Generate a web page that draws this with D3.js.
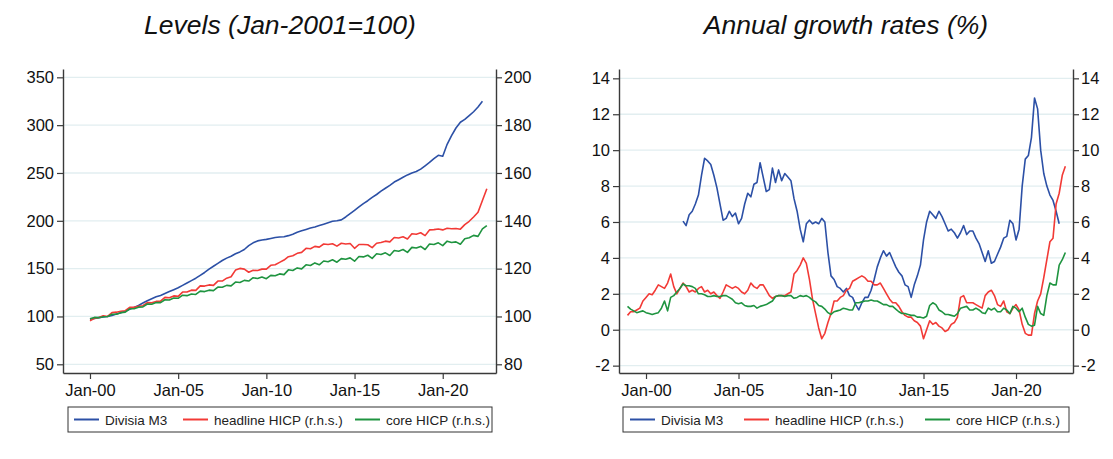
<!DOCTYPE html>
<html><head><meta charset="utf-8">
<script src="https://cdn.jsdelivr.net/npm/d3@7/dist/d3.min.js"></script>
<style>
body{margin:0;background:#fff;}
text{font-family:"Liberation Sans",Arial,Helvetica,sans-serif;}
</style>
</head><body>
<svg id="c" width="1113" height="459"></svg>
<script>
// ---------- DATA ----------
const tickYears = [2000, 2005, 2010, 2015, 2020];
const tickLabels = ["Jan-00", "Jan-05", "Jan-10", "Jan-15", "Jan-20"];
const seriesNames = ["Divisia M3", "headline HICP (r.h.s.)", "core HICP (r.h.s.)"];
const titles = ["Levels (Jan-2001=100)", "Annual growth rates (%)"];
const levelLeftTicks = [50, 100, 150, 200, 250, 300, 350];
const levelRightTicks = [80, 100, 120, 140, 160, 180, 200];
const growthTicks = [-2, 0, 2, 4, 6, 8, 10, 12, 14];

// Levels, quarterly from Jan-2000 (Jan, Apr, Jul, Oct)
const levelsStart = 2000;
const levelsM3 = [97,98,98.8,99.5,100,101,102.5,104,105.5,107.5,109.5,111.5,114,116.5,118.5,120.5,
  122,124,126,128,130,132.5,135,137.5,140,143,146,149.5,152.5,155.5,158.5,161,
  163,165.5,167.5,170,174,177,179,180,180.6,181.5,182.5,183,183.4,184.5,186,188,
  189.5,191,192.5,193.5,195,196.5,198,199.5,200,201,204,207.5,211,214.5,218,221,
  224.5,227.5,231,234,237,240.5,243,245.5,248,250,251.5,254,257.5,261,265,268.5,
  267.5,280,289,297,303,306,310,314,319,325];
const levelsHICP = [98.2,99.2,99.6,100.3,100,101.6,101.8,102.2,102.4,103.8,103.8,104.3,104.5,105.8,105.7,106.3,
  106.4,108,107.8,108.6,108.4,110.2,110.2,111,110.9,112.8,112.7,113.2,113,114.8,114.8,116,
  116.6,119.4,120.1,119.8,118.5,119.3,119.2,119.8,119.8,121.4,121.6,122.6,123.6,125,125.4,126.4,
  126.8,128.5,128.3,129.3,129,130.3,130.1,130.4,129.4,130.6,130.3,130.5,128.5,130.1,130.1,130,
  128.8,130.6,130.9,131.5,131.2,133,132.8,133.3,132.4,134.6,134.4,135,133.8,136.2,136.3,136.6,
  136.2,136.9,136.7,136.8,136.5,138.4,139.8,141.6,143.6,148.5,153.4];
const levelsCore = [99,99.6,99.5,99.9,100,100.9,100.9,101.6,101.8,103.2,103.2,103.9,104,105.2,105.1,105.8,
  105.8,107,106.9,107.7,107.6,108.9,108.7,109.4,109.2,110.6,110.4,111,110.8,112.3,112.2,113,
  112.8,114.4,114.2,115.1,114.8,116.2,115.9,116.5,115.8,117.2,117,117.8,117.5,119.5,119.2,120.3,
  119.9,121.6,121.3,122.4,121.6,123.2,122.9,123.7,122.7,124.2,123.9,124.5,123.1,125.1,124.9,125.6,
  124.3,126.2,125.9,126.6,125.5,127.6,127.3,128,126.8,128.9,128.6,129.3,128,130.3,130.1,130.8,
  129.6,131.5,130.9,131.2,130.2,132.5,132.9,133.9,133.5,136.6,138];

// Annual growth rates, every second month
const growthM3Start = 2002;
const growthM3 = [6.05,5.8,6.4,6.6,7,7.5,8.6,9.55,9.4,9.2,8.6,7.9,7,6.1,6.2,6.6,6.3,6.5,
  5.9,6.2,7,7.6,7.4,8.1,8.2,9.3,8.5,7.7,7.8,9,8.2,8.9,8.3,8.7,8.5,8.3,
  7.3,6.6,5.6,4.9,5.9,6.1,5.9,6,5.9,6.2,6,4.3,3,2.8,2.4,2.3,2.1,2.3,
  1.9,1.8,1.4,1.1,1.5,1.8,1.8,2.2,2.8,3.5,4,4.4,4.1,4.3,3.9,3.5,3.2,3,
  2.5,2.4,1.8,2.5,3,3.6,5,6,6.6,6.4,6.2,6.6,6.3,5.9,5.5,5.6,5.4,5.1,
  5.4,5.8,5.3,5.5,5.5,5.1,4.8,4.3,3.8,4.4,3.7,3.8,4.2,4.6,5.1,5.2,6.1,5.9,
  5,5.6,8,9.5,9.7,10.7,12.9,12.3,10,8.7,8,7.5,7.2,6.6,5.9];
const growthHICPStart = 1999;
const growthHICP = [0.8,1,1,1.1,1.2,1.6,1.8,2,1.95,2.2,2.5,2.4,2.3,2.6,3.1,2.4,2,2.3,
  2.6,2.4,2.1,2.2,2.1,2.3,2.4,2.1,2.2,2,2.1,1.9,1.75,2.1,2.5,2.4,2.3,2.4,
  2.3,2.1,2,2.2,2.6,2.4,2.3,2.5,2.5,2.2,1.9,1.75,1.85,1.9,1.9,1.9,2,2.1,
  3.1,3.3,3.6,4,3.7,2.8,1.7,0.9,0.1,-0.5,-0.2,0.4,0.9,1.6,1.6,1.8,1.9,2.2,
  2.3,2.7,2.8,2.9,3,2.9,2.7,2.7,2.5,2.5,2.6,2.3,2,1.7,1.5,1.5,1.3,1,
  0.8,0.7,0.7,0.5,0.4,0.2,-0.5,0,0.5,0.3,0.4,0.2,0.1,-0.1,0,0.3,0.4,0.7,
  1.8,1.9,1.5,1.5,1.5,1.4,1.3,1.2,1.9,2.1,2.2,1.9,1.4,1.3,1.6,1,0.9,1.2,
  1.4,1.1,0.3,-0.2,-0.3,-0.3,0.9,1.6,2,2.9,3.9,4.9,5.1,7,7.6,8.6,9.1];
const growthCore = [1.3,1.15,1.05,0.95,1,1.05,0.95,0.9,0.85,0.9,0.95,1.2,1.6,1.05,1.8,1.9,2.1,2.3,
  2.55,2.45,2.45,2.4,2.3,2,2,1.95,1.85,1.85,1.9,1.85,1.85,1.9,1.9,1.8,1.7,1.5,
  1.45,1.5,1.35,1.3,1.3,1.35,1.2,1.3,1.35,1.4,1.5,1.6,1.85,1.9,1.9,1.85,1.9,1.9,
  1.75,1.8,1.9,1.85,1.9,1.8,1.65,1.55,1.35,1.3,1.15,0.95,0.85,1,1.05,1.1,1.2,1.15,
  1.1,1.1,1.5,1.5,1.55,1.6,1.6,1.65,1.6,1.6,1.5,1.4,1.4,1.3,1.3,1.15,1,0.9,
  0.9,0.85,0.8,0.8,0.7,0.7,0.65,0.75,1.35,1.5,1.4,1.1,1,0.85,0.85,0.8,0.75,0.9,
  1.2,1.25,1.3,1.1,1.1,1.2,1.1,0.95,0.9,1.2,1.1,1.2,1,1,1.2,1.1,0.9,1.3,
  1.2,1,1.2,0.7,0.3,0.2,0.25,1.3,0.9,0.8,1.9,2.6,2.5,2.5,3.6,3.9,4.3];

// ---------- DRAWING ----------
const colors = ["#2c50a6", "#f23a36", "#1f9440"];
const svg = d3.select("#c");
const axisColor = "#3a3a3a";
const gridColor = "#e2eef0";

function withTime(values, start, perYear) {
  return values.map((v, i) => ({ t: start + i / perYear, v }));
}

function drawPanel(p) {
  const g = svg.append("g");
  const x = d3.scaleLinear().domain(p.xDomain).range([p.left, p.right]);
  const yL = d3.scaleLinear().domain(p.yLDomain).range([p.bottom, p.top]);
  const yR = d3.scaleLinear().domain(p.yRDomain).range([p.bottom, p.top]);

  // grid
  g.selectAll("line.grid").data(p.leftTicks).enter().append("line")
    .attr("x1", p.left).attr("x2", p.right)
    .attr("y1", d => yL(d)).attr("y2", d => yL(d))
    .attr("stroke", gridColor).attr("stroke-width", 1.3);

  const styleAxis = (sel) => {
    sel.selectAll("path.domain").attr("stroke", axisColor).attr("stroke-width", 1.4);
    sel.selectAll(".tick line").attr("stroke", axisColor).attr("stroke-width", 1.2);
    sel.selectAll(".tick text").attr("fill", "#111").style("font-size", "16.5px")
      .style("font-family", '"Liberation Sans",Arial,sans-serif');
  };
  const fmt = d => String(d);

  g.append("g").attr("transform", `translate(${p.left},0)`)
    .call(d3.axisLeft(yL).tickValues(p.leftTicks).tickFormat(fmt).tickSize(6).tickSizeOuter(0).tickPadding(3))
    .call(styleAxis);
  g.append("g").attr("transform", `translate(${p.right},0)`)
    .call(d3.axisRight(yR).tickValues(p.rightTicks).tickFormat(fmt).tickSize(6).tickSizeOuter(0).tickPadding(2))
    .call(styleAxis);
  g.append("g").attr("transform", `translate(0,${p.bottom})`)
    .call(d3.axisBottom(x).tickValues(tickYears).tickFormat((d, i) => tickLabels[i])
      .tickSize(6).tickSizeOuter(0).tickPadding(5))
    .call(styleAxis);

  // lines
  p.series.forEach((s, k) => {
    const yS = s.axis === "R" ? yR : yL;
    const line = d3.line().x(d => x(d.t)).y(d => yS(d.v));
    g.append("path").datum(s.data)
      .attr("d", line).attr("fill", "none")
      .attr("stroke", colors[k]).attr("stroke-width", 1.6)
      .attr("stroke-linejoin", "round");
  });

  // title
  g.append("text").attr("x", p.titleX).attr("y", 34)
    .attr("text-anchor", "middle").style("font-size", "26.5px").style("font-style", "italic")
    .attr("fill", "#111").text(p.title);

  // legend
  const L = p.legend;
  g.append("rect").attr("x", L.x).attr("y", L.y).attr("width", L.w).attr("height", L.h)
    .attr("fill", "#fff").attr("stroke", "#333").attr("stroke-width", 1);
  seriesNames.forEach((name, k) => {
    const lx = L.items[k];
    g.append("line").attr("x1", lx).attr("x2", lx + 25)
      .attr("y1", L.y + L.h / 2).attr("y2", L.y + L.h / 2)
      .attr("stroke", colors[k]).attr("stroke-width", 2);
    g.append("text").attr("x", lx + 31).attr("y", L.y + L.h / 2 + 5)
      .style("font-size", "13.5px").attr("fill", "#222").text(name);
  });
}

// Left panel: levels
drawPanel({
  left: 63, right: 496, top: 69, bottom: 373,
  xDomain: [1998.47, 2023.02],
  yLDomain: [40.9, 358.7], yRDomain: [76.36, 203.48],
  leftTicks: levelLeftTicks, rightTicks: levelRightTicks,
  series: [
    { data: withTime(levelsM3, levelsStart, 4), axis: "L" },
    { data: withTime(levelsHICP, levelsStart, 4), axis: "R" },
    { data: withTime(levelsCore, levelsStart, 4), axis: "R" }
  ],
  title: titles[0], titleX: 280,
  legend: { x: 68, y: 407, w: 424, h: 25, items: [74, 183, 355] }
});

// Right panel: growth rates
drawPanel({
  left: 619, right: 1073, top: 69, bottom: 373,
  xDomain: [1998.54, 2023.08],
  yLDomain: [-2.41, 14.52], yRDomain: [-2.41, 14.52],
  leftTicks: growthTicks, rightTicks: growthTicks,
  series: [
    { data: withTime(growthM3, growthM3Start, 6), axis: "L" },
    { data: withTime(growthHICP, growthHICPStart, 6), axis: "L" },
    { data: withTime(growthCore, growthHICPStart, 6), axis: "L" }
  ],
  title: titles[1], titleX: 846,
  legend: { x: 623, y: 407, w: 446, h: 25, items: [630, 744, 925] }
});
</script>
</body></html>
